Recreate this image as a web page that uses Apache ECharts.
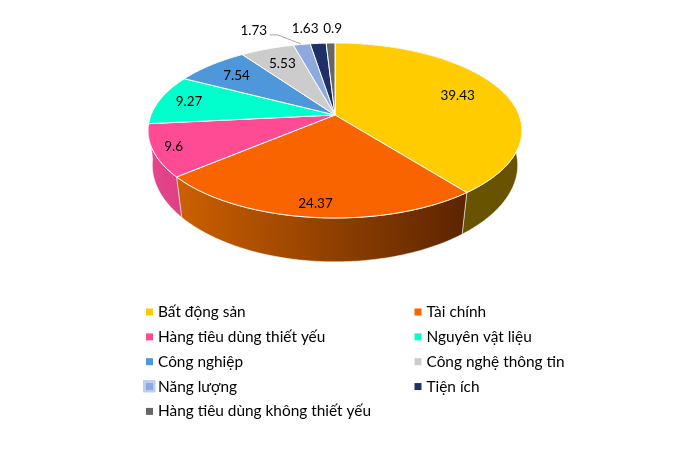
<!DOCTYPE html>
<html><head><meta charset="utf-8">
<style>html,body{margin:0;padding:0;background:#fff}#c{width:700px;height:454px}</style>
<script src="https://cdn.jsdelivr.net/npm/echarts@6/dist/echarts.min.js"></script>
</head><body><div id="c"></div>
<script>
const categories = ["Bất động sản","Tài chính","Hàng tiêu dùng thiết yếu","Nguyên vật liệu","Công nghiệp","Công nghệ thông tin","Năng lượng","Tiện ích","Hàng tiêu dùng không thiết yếu"];
const values = [39.43,24.37,9.6,9.27,7.54,5.53,1.73,1.63,0.9];
const colors = ["#FFCC00","#F96400","#FF4B94","#00FFCC","#4F97DB","#CCCCCC","#8EA9E0","#1F3068","#666666"];
const wallColors = [["#6B5700","#675300"],["#CC6000","#5C2400"],["#E8458C","#DE3F84"]];
const labelRadius = [0.735,0.883,0.894,0.83,0.775,0.75,null,null,null];
const outerOffset = [null,null,null,null,null,null,[-48,-13.5],[-13,-15],[2,-14.5]];

const CX=335, TOPY=115, RX=184, RYT=84.75, K=0.1772, BOTY=150, RYB=92, BOTS=0.98, BOTK=0.16;
const total = values.reduce((a,b)=>a+b,0);
function topPt(angle,r=1){
  const x=Math.sin(angle)*r, u=-Math.cos(angle)*r, w=1-K*u;
  return [CX+RX*x/w, TOPY+RYT*u/w];
}
function botPt(angle){
  const x=Math.sin(angle), u=-Math.cos(angle);
  return [CX+RX*BOTS*x/(1-BOTK*u), BOTY+RYB*u/(1-K*u)];
}
function range(i){
  let s=0; for(let k=0;k<i;k++) s+=values[k];
  return [s/total*2*Math.PI,(s+values[i])/total*2*Math.PI];
}
function makeRender(i){
  return function(params,api){
    const v=api.value(0); const [a0,a1]=range(i);
    const n=Math.max(4,Math.ceil((a1-a0)/0.015));
    const top=[],bot=[];
    for(let k=0;k<=n;k++){const a=a0+(a1-a0)*k/n; top.push(topPt(a)); bot.push(botPt(a));}
    const children=[];
    if(wallColors[i]){
      const wall=top.concat(bot.slice().reverse());
      const xs=wall.map(p=>p[0]);
      const gx0=Math.min(...xs),gx1=Math.max(...xs);
      const fill=new echarts.graphic.LinearGradient(gx0,0,gx1,0,[{offset:0,color:wallColors[i][0]},{offset:1,color:wallColors[i][1]}],true);
      children.push({type:'polygon',z2:1,shape:{points:wall},style:{fill,stroke:'rgba(255,255,255,0.75)',lineWidth:0.7}});
    }
    children.push({type:'polygon',z2:5,shape:{points:[[CX,TOPY]].concat(top)},style:{fill:colors[i],stroke:'#fff',lineWidth:1}});
    const mid=(a0+a1)/2; let lp;
    if(labelRadius[i]!==null){lp=topPt(mid,labelRadius[i]);}
    else{
      const rim=topPt(mid); const o=outerOffset[i]; lp=[rim[0]+o[0],rim[1]+o[1]];
      if(i===6){children.push({type:'polyline',z2:6,shape:{points:[[rim[0]-1,rim[1]-0.5],[rim[0]-24,rim[1]-9.5],[rim[0]-32,rim[1]-9.5]]},style:{fill:null,stroke:'#A6A6A6',lineWidth:1}});}
    }
    children.push({type:'text',z2:10,style:{x:lp[0],y:lp[1],text:String(v),fill:'#000',font:'13.5px Lato',textAlign:'center',textVerticalAlign:'middle'}});
    return {type:'group',children};
  };
}
const leftItems=[0,2,4,6,8], rightItems=[1,3,5,7];
const legendBase={orient:'vertical',icon:'rect',itemWidth:7,itemHeight:7,itemGap:9.85,selectedMode:false,
  textStyle:{fontFamily:'Lato',fontSize:15.4,color:'#000'},padding:0};
const chart=echarts.init(document.getElementById('c'),null,{renderer:'canvas'});
chart.setOption({
  animation:false,backgroundColor:'#fff',
  graphic:[{type:'rect',z:-1,shape:{x:143,y:380,width:12.5,height:12.5,r:1},style:{fill:'#BFCDEE'}}],
  legend:[
    Object.assign({},legendBase,{left:146,top:304.5,data:leftItems.map(i=>categories[i])}),
    Object.assign({},legendBase,{left:414.5,top:304.5,data:rightItems.map(i=>categories[i])})
  ],
  series:categories.map((name,i)=>({
    type:'custom',name,coordinateSystem:'none',silent:true,
    itemStyle:{color:colors[i]},color:colors[i],
    renderItem:makeRender(i),data:[[values[i]]]
  }))
});
</script></body></html>
